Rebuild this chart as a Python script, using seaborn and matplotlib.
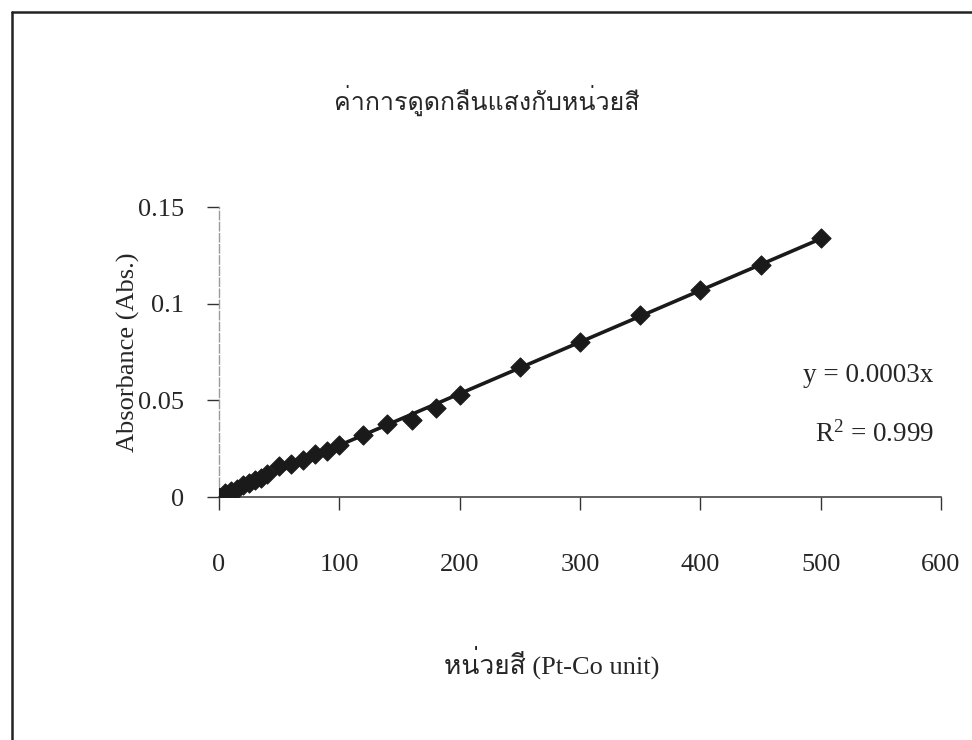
import numpy as np
import pandas as pd
import matplotlib
matplotlib.use("Agg")
import matplotlib.pyplot as plt
from matplotlib import font_manager, ft2font
from matplotlib.lines import Line2D
from matplotlib.ticker import FuncFormatter
import seaborn as sns

# data
pt_co = [0, 5, 10, 15, 20, 25, 30, 35, 40, 50, 60, 70, 80, 90, 100,
         120, 140, 160, 180, 200, 250, 300, 350, 400, 450, 500]
absorbance = [0, 0.002, 0.003, 0.004, 0.006, 0.007, 0.009, 0.010, 0.012, 0.016,
              0.017, 0.019, 0.022, 0.024, 0.027, 0.032, 0.038, 0.040, 0.046,
              0.053, 0.067, 0.080, 0.094, 0.107, 0.120, 0.134]
x_ticks = [0, 100, 200, 300, 400, 500, 600]
y_ticks = [0, 0.05, 0.1, 0.15]

title = "ค่าการดูดกลืนแสงกับหน่วยสี"
x_label = "หน่วยสี (Pt-Co unit)"
y_label = "Absorbance (Abs.)"
eq_text = "y = 0.0003x"
r2_text = r"R$^{2}$ = 0.999"

data = pd.DataFrame({"x": pt_co, "y": absorbance})

# trendline forced through origin
slope = (data.x * data.y).sum() / (data.x ** 2).sum()
trend = pd.DataFrame({"x": [0, data.x.max()]})
trend["y"] = slope * trend.x


def find_thai_font():
    for f in font_manager.fontManager.ttflist:
        try:
            if 0x0E01 in ft2font.FT2Font(f.fname).get_charmap():
                return f.name
        except Exception:
            pass
    return "DejaVu Sans"


sns.set_style("white")
thai = find_thai_font()
plt.rcParams["font.family"] = ["Liberation Serif", thai, "DejaVu Sans"]
plt.rcParams["mathtext.fontset"] = "custom"
plt.rcParams["mathtext.rm"] = "Liberation Serif"
plt.rcParams["mathtext.it"] = "Liberation Serif"

W, H = 972, 740
fig = plt.figure(figsize=(W / 100, H / 100), dpi=100)
ax = fig.add_axes([219 / W, 1 - 497 / H, (941 - 219) / W, (497 - 207) / H])

sns.lineplot(data=trend, x="x", y="y", ax=ax, color="#1a1a1a", linewidth=2.6)
sns.scatterplot(data=data, x="x", y="y", ax=ax, marker="D", s=95,
                color="#1a1a1a", edgecolor="#1a1a1a", zorder=3)

ax.set_xlim(0, 600)
ax.set_ylim(0, 0.15)
ax.set_xticks(x_ticks)
ax.set_yticks(y_ticks)
ax.yaxis.set_major_formatter(FuncFormatter(lambda v, p: "%g" % v))
ax.set_xlabel("")
ax.set_ylabel("")
ax.tick_params(axis="y", direction="out", length=9, width=1, pad=16,
               labelsize=19, color="#333333")
ax.tick_params(axis="x", direction="out", length=9, width=1, pad=32,
               labelsize=19, color="#333333")
ax.tick_params(left=True, bottom=True)

for s in ["top", "right"]:
    ax.spines[s].set_visible(False)
ax.spines["left"].set_color("#9a9a9a")
ax.spines["left"].set_linestyle((0, (6, 2)))
ax.spines["left"].set_linewidth(1)
ax.spines["bottom"].set_color("#444444")
ax.spines["bottom"].set_linewidth(1.2)

ax.text(0.99, 0.42, eq_text, transform=ax.transAxes,
        ha="right", va="center", fontsize=19.5)
ax.text(0.99, 0.215, r2_text, transform=ax.transAxes,
        ha="right", va="center", fontsize=19.5)

fig.text(487 / W, 1 - 100 / H, title, ha="center", va="center", fontsize=18)
fig.text(552 / W, 1 - 662 / H, x_label, ha="center", va="center", fontsize=19)
fig.text(128 / W, 1 - 352 / H, y_label, ha="center", va="center",
         fontsize=19, rotation=90)

# chart border (only top and left edges are inside the scan)
fig.add_artist(Line2D([12 / W, 12 / W], [0, 1 - 12 / H], color="#222222", lw=1.8))
fig.add_artist(Line2D([12 / W, 1], [1 - 12 / H, 1 - 12 / H], color="#222222", lw=1.8))

fig.savefig("out.png", dpi=100)
